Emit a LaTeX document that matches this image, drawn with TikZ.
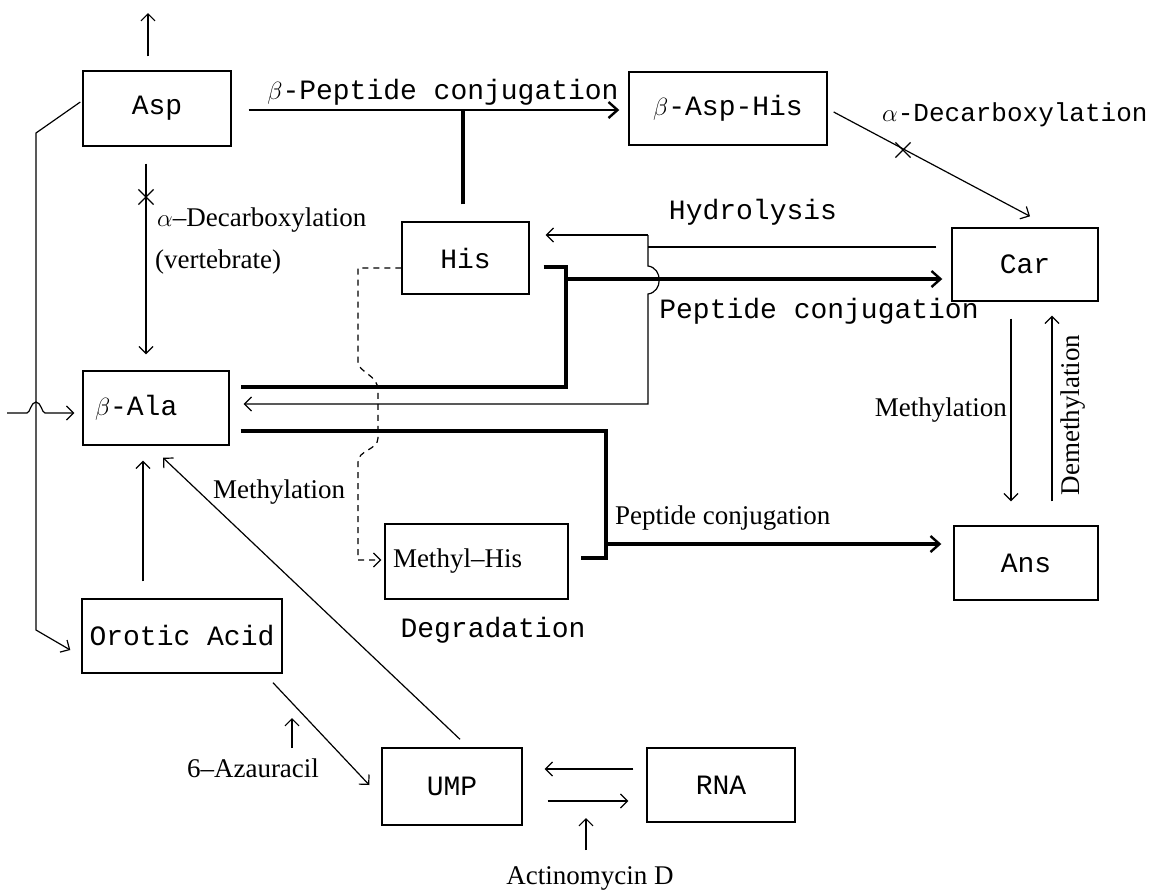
\documentclass[tikz,border=0pt]{standalone}
\usepackage{fontspec}
\setmainfont{Liberation Serif}
\setmonofont{Liberation Mono}
\usetikzlibrary{arrows.meta,calc,shapes.misc}
\begin{document}
\begin{tikzpicture}[x=1pt,y=-1pt,
  boxnode/.style={draw,line width=1.4pt,rectangle,inner sep=0pt,
    font=\ttfamily\fontsize{28}{30}\selectfont},
  ttlab/.style={font=\ttfamily\fontsize{28}{30}\selectfont,inner sep=0pt},
  serlab/.style={font=\fontsize{27}{29}\selectfont,inner sep=0pt},
  thinline/.style={line width=1.2pt},
  medline/.style={line width=2.2pt},
  heavyline/.style={line width=3.6pt},
  dashline/.style={line width=1.2pt,dash pattern=on 6pt off 5pt},
  arr/.style={-{Straight Barb[length=7pt,width=14pt,line width=1.2pt]}},
  bigarr/.style={-{Straight Barb[length=9pt,width=16pt,line width=2.4pt]}},
  xmark/.style={cross out,draw,line width=1.2pt,minimum size=14pt,inner sep=0pt},
]
\useasboundingbox (0,0) rectangle (1151,895);

% boxes
\node[boxnode,minimum width=148pt,minimum height=75pt] (asp) at (157,108.5) {Asp};
\node[boxnode,minimum width=198pt,minimum height=73pt] (basphis) at (728,108.5) {$\beta$-Asp-His};
\node[boxnode,minimum width=127pt,minimum height=72pt] (his) at (465.5,258) {His};
\node[boxnode,minimum width=146pt,minimum height=73pt] (car) at (1025,264.5) {Car};
\node[boxnode,minimum width=146pt,minimum height=74pt,text width=122pt,align=left] (bala) at (156,408) {$\beta$-Ala};
\node[boxnode,minimum width=183pt,minimum height=75pt,text width=167pt,align=left,font=\fontsize{27}{29}\selectfont] (mhis) at (476.5,561.5) {Methyl–His};
\node[boxnode,minimum width=144pt,minimum height=74pt] (ans) at (1026,563) {Ans};
\node[boxnode,minimum width=200pt,minimum height=74pt] (orotic) at (182,636) {Orotic Acid};
\node[boxnode,minimum width=140pt,minimum height=77pt] (ump) at (452,786.5) {UMP};
\node[boxnode,minimum width=148pt,minimum height=74pt] (rna) at (721,785) {RNA};

% labels
\node[ttlab] (lbpep) at (443,92) {$\beta$-Peptide conjugation};
\node[ttlab,font=\ttfamily\fontsize{26}{28}\selectfont,anchor=west] (ladec) at (882,115) {$\alpha$-Decarboxylation};
\node[ttlab] (lhyd) at (753,212) {Hydrolysis};
\node[ttlab] (lpepu) at (819,311) {Peptide conjugation};
\node[serlab,anchor=west] (ldecl) at (157,220) {$\alpha$–Decarboxylation};
\node[serlab,anchor=west] (lvert) at (155,262) {(vertebrate)};
\node[serlab,anchor=west] (lmethl) at (213,492) {Methylation};
\node[serlab,anchor=west] (lpepl) at (615,518) {Peptide conjugation};
\node[ttlab] (ldeg) at (493,630) {Degradation};
\node[serlab] (lazau) at (253,768) {6–Azauracil};
\node[serlab] (lactd) at (590,878) {Actinomycin D};
\node[serlab,anchor=east] (lmethr) at (1007,410) {Methylation};
\node[serlab,rotate=90] (ldemeth) at (1073,415) {Demethylation};

% cross marks
\node[xmark] (xl) at (146,197) {};
\node[xmark] (xr) at (903,150) {};

% free ends and junctions
\coordinate (aspout) at (148,13);
\coordinate (hj) at (648,235);
\coordinate (hjb) at (648,247);
\coordinate (pj) at (566,279);
\coordinate (leftin) at (7,413);
\coordinate (azaubase) at (292,748);
\coordinate (azautip) at (292,718);
\coordinate (actbase) at (586,850);
\coordinate (acttip) at (586,818);

% connectors
\draw[thinline,arr] ($(asp.north)+(-9,-14)$) -- (aspout);
\draw[medline,bigarr] ($(asp.east)+(17,1.5)$) -- ($(basphis.west)+(-9,1.5)$);
\draw[heavyline] ($(his.north)+(-2.5,-17)$) -- ($(his.north)+(-2.5,-110)$);
\draw[thinline,arr] ($(basphis.east)+(6,3.5)$) -- ($(car.north)+(5,-11)$);
\draw[thinline,arr] ($(asp.south)+(-11,17)$) -- ($(bala.north)+(-10,-16)$);

% hydrolysis
\draw[thinline] ($(car.west)+(-15,-17.5)$) -- (hjb);
\draw[thinline,arr] (hj) -- ($(his.east)+(16,-23)$);
\draw[thinline,arr] (hj) -- (648,266) .. controls (663,268) and (663,292) .. (648,294) -- (648,404) -- ($(bala.east)+(14,-4)$);

% peptide conjugation (His + beta-Ala -> Car)
\draw[heavyline] ($(his.east)+(14,9)$) -- (566,267) -- (566,387) -- ($(bala.east)+(11,-21)$);
\draw[heavyline,bigarr] (pj) -- ($(car.west)+(-9,14.5)$);

% peptide conjugation (Methyl-His + beta-Ala -> Ans)
\draw[heavyline] ($(bala.east)+(11,23)$) -- (606,431) -- (606,558) -- ($(mhis.east)+(12,-3.5)$);
\draw[heavyline,bigarr] (606,544) -- ($(ans.west)+(-12,-19)$);

% methylation of His (dashed)
\draw[dashline,arr] ($(his.west)+(0,10)$) -- (358,268) -- (358,362) .. controls (358,372) and (378,375) .. (378,390) -- (378,438) .. controls (378,450) and (358,450) .. (358,462) -- (358,560) -- ($(mhis.west)+(-3,-1.5)$);

% left side
\draw[thinline,arr] ($(asp.west)+(-2,-6.5)$) -- (36,133) -- (36,630) -- ($(orotic.west)+(-11,14)$);
\draw[thinline,arr] (leftin) -- (27,413) .. controls (30,413) and (31,402) .. (36,402) .. controls (41,402) and (42,413) .. (45,413) -- ($(bala.west)+(-8,5)$);
\draw[thinline,arr] ($(orotic.north)+(-39,-17)$) -- ($(bala.south)+(-13,15)$);
\draw[thinline,arr] ($(ump.north)+(8,-8)$) -- ($(bala.south)+(7,12)$);
\draw[thinline,arr] ($(orotic.south)+(91,9)$) -- ($(ump.west)+(-12,-1.5)$);
\draw[thinline,arr] (azaubase) -- (azautip);

% UMP <-> RNA
\draw[thinline,arr] ($(rna.west)+(-13,-16)$) -- ($(ump.east)+(22,-17.5)$);
\draw[thinline,arr] ($(ump.east)+(25,14.5)$) -- ($(rna.west)+(-18,16)$);
\draw[thinline,arr] (actbase) -- (acttip);

% Car <-> Ans
\draw[thinline,arr] ($(car.south)+(-14,17)$) -- ($(ans.north)+(-15,-24)$);
\draw[thinline,arr] ($(ans.north)+(26,-24)$) -- ($(car.south)+(27,14)$);
\end{tikzpicture}
\end{document}
